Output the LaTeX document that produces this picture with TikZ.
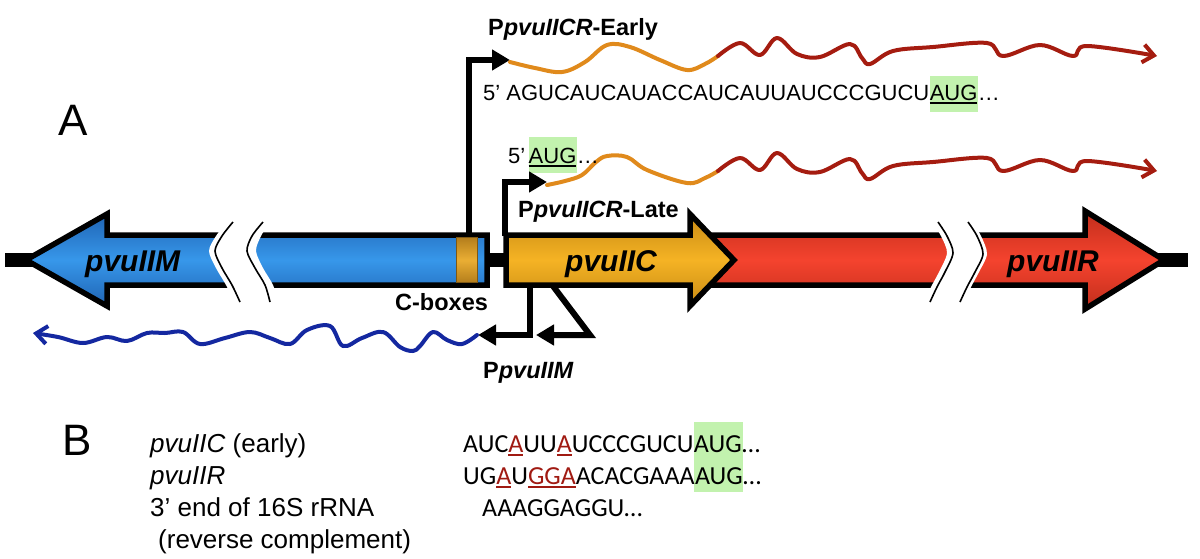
\documentclass[tikz,border=0pt]{standalone}
\usepackage{fontspec}
\setmainfont{Liberation Sans}
\newfontfamily\calib{Carlito}
\usetikzlibrary{arrows.meta,backgrounds}
\definecolor{blueM}{HTML}{3797EA}
\definecolor{blueD}{HTML}{1F64B4}
\definecolor{goldM}{HTML}{F5B324}
\definecolor{goldD}{HTML}{C88A14}
\definecolor{redM}{HTML}{F4432E}
\definecolor{redD}{HTML}{C22E1C}
\definecolor{cboxM}{HTML}{EAAE34}
\definecolor{cboxD}{HTML}{B47E1C}
\definecolor{trOr}{HTML}{E08A1C}
\definecolor{trRed}{HTML}{A51C10}
\definecolor{trBlue}{HTML}{1428A0}
\definecolor{hl}{HTML}{C2F2AE}
\definecolor{seqred}{HTML}{A01A12}
\newcommand\ulbox[1]{\setbox0\hbox{#1}\rlap{\rule[-4pt]{\wd0}{2.2pt}}\box0}
\newcommand\redul[1]{{\color{seqred}\ulbox{#1}}}
\begin{document}
\begin{tikzpicture}[x=1pt,y=-1pt,
  genebox/.style={draw=black, line width=5.5pt, line join=miter},
  prom/.style={draw=black, line width=6pt, line join=miter, -{Triangle[length=18pt,width=20pt]}},
  wave/.style={line width=4pt, line cap=round, line join=round},
  wavearr/.style={wave, -{Straight Barb[length=11pt,width=18pt]}},
  brk/.style={line width=1.6pt},
  lbl/.style={inner sep=0pt, anchor=base west, font=\fontsize{23.5pt}{28pt}\selectfont\bfseries},
  genelbl/.style={inner sep=0pt, anchor=base west, font=\fontsize{30pt}{34pt}\selectfont\bfseries\itshape},
  seqA/.style={inner sep=0pt, anchor=base west, font=\fontsize{22pt}{26pt}\selectfont},
  seqB/.style={inner sep=0pt, anchor=base west, font=\fontsize{26pt}{30pt}\selectfont\calib},
  lblB/.style={inner sep=0pt, anchor=base west, font=\fontsize{26pt}{30pt}\selectfont},
  big/.style={inner sep=0pt, anchor=base west, font=\fontsize{44pt}{50pt}\selectfont}]
\useasboundingbox (0,0) rectangle (1200,558);

% backbone
\coordinate (bbL) at (5,260);
\coordinate (bbR) at (1188,260);
\draw[line width=14pt] (bbL) -- (bbR);

% genes
\draw[genebox, top color=redD, bottom color=redD, middle color=redM]
  (700,235) -- (1085,235) -- (1085,211) -- (1164,260) -- (1085,309) -- (1085,285) -- (700,285) -- cycle;
\draw[genebox, top color=goldD, bottom color=goldD, middle color=goldM]
  (506,235) -- (690,235) -- (690,214) -- (734,260) -- (690,306) -- (690,285) -- (506,285) -- cycle;
\draw[genebox, top color=blueD, bottom color=blueD, middle color=blueM]
  (26,260) -- (107,214) -- (107,235) -- (487,235) -- (487,285) -- (107,285) -- (107,306) -- cycle;
% C-box
\draw[draw=cboxD!70!black, line width=1pt, top color=cboxD, bottom color=cboxD, middle color=cboxM]
  (456,237.5) rectangle (477,282.5);

% breaks
\fill[white] plot[smooth] coordinates {(227,222) (216,236) (209,251) (216,268) (226,285) (234,302)}
  -- plot[smooth] coordinates {(278,302) (273,285) (263,268) (256,251) (261,236) (270,222)} -- cycle;
\draw[brk] plot[smooth] coordinates {(233,222) (222,236) (215,251) (222,268) (232,285) (240,302)};
\draw[brk] plot[smooth] coordinates {(263,222) (252,236) (247,251) (255,268) (265,285) (270,302)};
\fill[white] plot[smooth] coordinates {(932,222) (941,236) (947,253) (939,272) (931,287) (924,302)}
  -- plot[smooth] coordinates {(964,302) (971,287) (979,272) (987,254) (981,236) (972,222)} -- cycle;
\draw[brk] plot[smooth] coordinates {(938,222) (947,236) (953,253) (945,272) (937,287) (930,302)};
\draw[brk] plot[smooth] coordinates {(968,222) (977,236) (983,254) (975,272) (967,287) (960,302)};

% gene labels
\node[genelbl] (nM) at (85,271) {pvuIIM};
\node[genelbl] (nC) at (565,271) {pvuIIC};
\node[genelbl] (nR) at (1007,271) {pvuIIR};

% promoters
\coordinate (eS) at (469,236);
\coordinate (eT) at (510,60);
\draw[prom] (eS) |- (eT);
\coordinate (lS) at (505,236);
\coordinate (lT) at (547,182);
\draw[prom] (lS) |- (lT);
\coordinate (m1S) at (530,285);
\coordinate (m1T) at (478,335);
\draw[prom] (m1S) |- (m1T);
\coordinate (m2S) at (553,286);
\coordinate (m2C) at (590,335);
\coordinate (m2T) at (536,335);
\draw[prom] (m2S) -- (m2C) -- (m2T);

% transcripts
\draw[wave, trOr] plot[smooth, tension=0.6] coordinates {(510,62) (535,68) (562,72) (585,62) (607,45) (630,47) (660,60) (687,70) (705,64) (718,56)};
\draw[wavearr, trRed] plot[smooth, tension=0.6] coordinates {(718,56) (740,43) (760,55) (777,38) (797,54) (820,57) (850,44) (862,58) (870,64) (893,51) (933,47) (987,43) (1003,56) (1040,45) (1073,56) (1087,46) (1157,56)};
\draw[wave, trOr] plot[smooth, tension=0.6] coordinates {(547,185) (565,181) (582,175) (596,162) (607,156) (627,157) (647,170) (687,183) (705,178) (718,171)};
\draw[wavearr, trRed] plot[smooth, tension=0.6] coordinates {(718,171) (740,158) (760,170) (777,153) (797,169) (820,172) (850,159) (862,173) (870,179) (893,166) (933,162) (987,158) (1003,171) (1040,160) (1073,171) (1087,161) (1157,171)};
\draw[wavearr, trBlue] plot[smooth, tension=0.6] coordinates {(477,335) (462,344) (447,340) (433,332) (420,346) (413,351) (400,347) (383,332) (362,338) (343,346) (330,326) (307,330) (290,344) (270,338) (250,332) (225,338) (200,344) (183,332) (165,333) (147,333) (127,341) (107,337) (83,343) (58,337) (33,333)};

% labels A part
\node[big] (A) at (58,135) {A};
\node[lbl] (lE) at (488,35) {P\textit{pvuIICR}-Early};
\node[lbl] (lL) at (518,217) {P\textit{pvuIICR}-Late};
\node[lbl] (lCb) at (395,310) {C-boxes};
\node[lbl] (lM) at (483,378) {P\textit{pvuIIM}};

% sequences A
\node[seqA] (s1) at (483,100) {5’ AGUCAUCAUACCAUCAUUAUCCCGUCU};
\node[seqA] (s1aug) at (s1.base east) {\ulbox{AUG}};
\node[seqA] (s1d) at (s1aug.base east) {…};
\node[seqA] (s2) at (508,163) {5’};
\node[seqA] (s2aug) at ([xshift=3pt]s2.base east) {\ulbox{AUG}};
\node[seqA] (s2d) at (s2aug.base east) {…};

% part B
\node[big] (B) at (62,455) {B};
\node[lblB] (r1) at (150,452) {\textit{pvuIIC} (early)};
\node[lblB] (r2) at (150,484) {\textit{pvuIIR}};
\node[lblB] (r3) at (150,516) {3’ end of 16S rRNA};
\node[lblB] (r4) at (158,548) {(reverse complement)};
\node[seqB] (b1) at (463,452) {AUC\redul{A}UU\redul{A}UCCCGUCU};
\node[seqB] (b1aug) at (b1.base east) {AUG};
\node[seqB] (b1d) at (b1aug.base east) {…};
\node[seqB] (b2) at (463,484) {UG\redul{A}U\redul{GGA}ACACGAAA};
\node[seqB] (b2aug) at (b2.base east) {AUG};
\node[seqB] (b2d) at (b2aug.base east) {…};
\node[seqB] (b3) at (482,516) {AAAGGAGGU…};

\begin{scope}[on background layer]
\fill[hl] ([yshift=24pt]s1aug.base west) rectangle ([yshift=-12pt]s1aug.base east);
\fill[hl] ([yshift=26pt]s2aug.base west) rectangle ([yshift=-10pt]s2aug.base east);
\fill[hl] ([yshift=30pt]b1aug.base west) rectangle ([yshift=-8pt]b2aug.base east);
\end{scope}
\end{tikzpicture}
\end{document}
